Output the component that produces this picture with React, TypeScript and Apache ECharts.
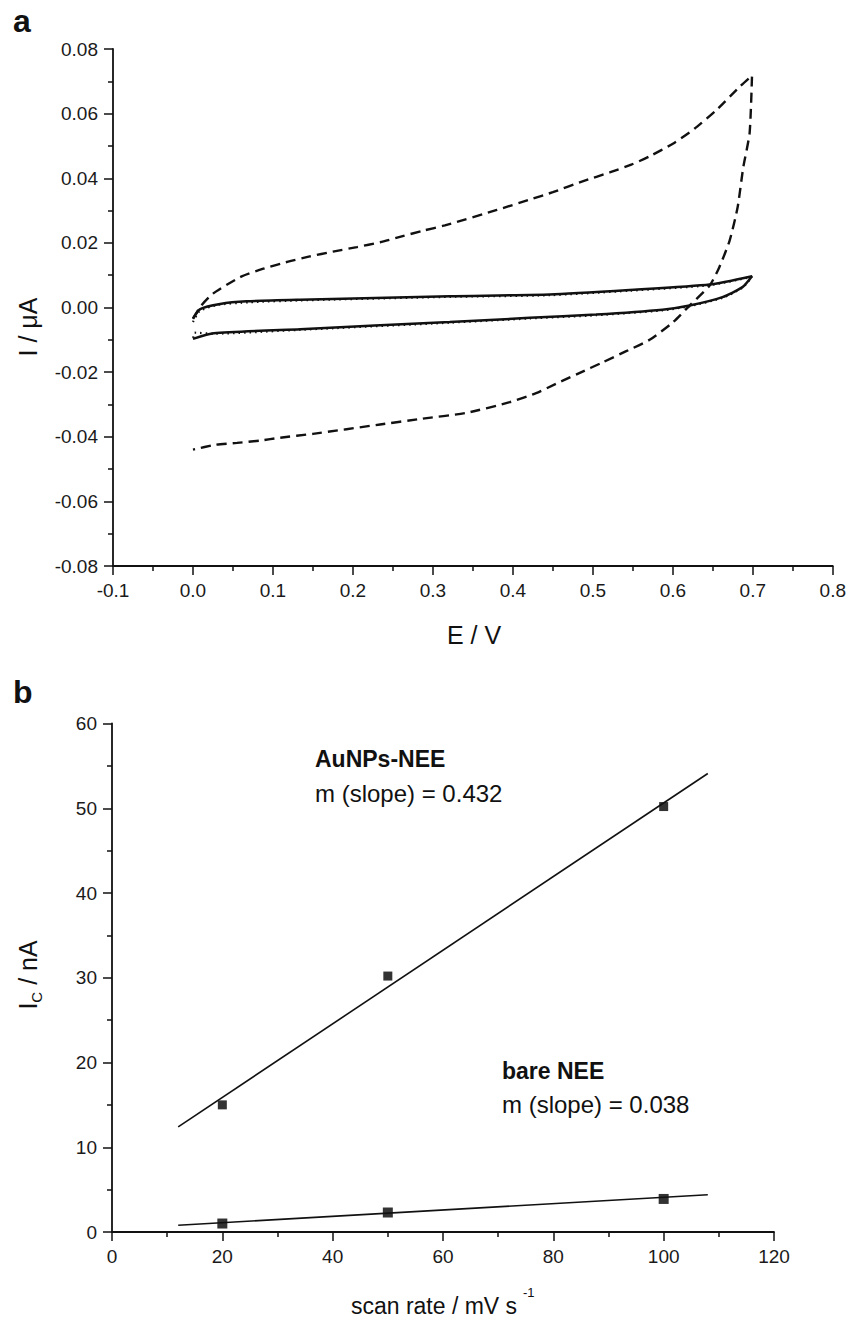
import React, { useEffect, useRef } from "react";
import * as echarts from "echarts";

// ---- Panel a: cyclic voltammograms (E / V, I / µA) ----
const dashedE = [0.0, 0.01, 0.025, 0.059, 0.088, 0.119, 0.146, 0.175, 0.205, 0.234, 0.261, 0.288, 0.315, 0.38, 0.42, 0.45, 0.488, 0.521, 0.548, 0.571, 0.6, 0.627, 0.654, 0.683, 0.699, 0.696, 0.688, 0.681, 0.671, 0.658, 0.646, 0.621, 0.6, 0.571, 0.541, 0.512, 0.483, 0.454, 0.429, 0.396, 0.342, 0.284, 0.234, 0.15, 0.109, 0.084, 0.055, 0.028, 0.0];
const dashedI = [-0.0034, 0.0005, 0.0043, 0.0094, 0.012, 0.0142, 0.0158, 0.0173, 0.0187, 0.0202, 0.022, 0.0238, 0.0254, 0.0302, 0.0333, 0.0357, 0.0391, 0.0418, 0.0442, 0.0468, 0.0507, 0.0553, 0.061, 0.0682, 0.0718, 0.054, 0.0433, 0.031, 0.0207, 0.0124, 0.0068, 0.0006, -0.0046, -0.01, -0.0136, -0.017, -0.0203, -0.0236, -0.0265, -0.0293, -0.0326, -0.0345, -0.0362, -0.0391, -0.0403, -0.0412, -0.0419, -0.0425, -0.044];

const solidE = [0.0, 0.009, 0.034, 0.067, 0.134, 0.321, 0.446, 0.546, 0.646, 0.699, 0.687, 0.662, 0.621, 0.587, 0.504, 0.421, 0.321, 0.134, 0.026, 0.0];
const solidI = [-0.0035, -0.0005, 0.0011, 0.0019, 0.0024, 0.0035, 0.004, 0.0054, 0.0071, 0.0097, 0.0063, 0.0032, 0.0006, -0.0007, -0.0022, -0.0032, -0.0045, -0.0067, -0.008, -0.0097];

const dottedE = [0.0, 0.008, 0.03, 0.07, 0.134, 0.321, 0.446, 0.546, 0.646, 0.699, 0.687, 0.662, 0.621, 0.587, 0.504, 0.421, 0.321, 0.134, 0.026, 0.002, 0.0];
const dottedI = [-0.0045, -0.0012, 0.0008, 0.0016, 0.0022, 0.0033, 0.0038, 0.0052, 0.0069, 0.0095, 0.0061, 0.003, 0.0004, -0.0009, -0.0024, -0.0034, -0.0047, -0.0069, -0.0081, -0.0078, -0.0106];

// ---- Panel b: capacitive current vs scan rate ----
const scanRates = [20, 50, 100];
const auNPsNEE = [15.0, 30.2, 50.2];
const bareNEE = [1.0, 2.3, 3.9];
const fitX = [12, 108];
const auFit = [12.4, 54.1];
const bareFit = [0.8, 4.4];

const FONT = "'Liberation Sans', Arial, Helvetica, sans-serif";
const BLACK = "#111";

function pairs(xs: number[], ys: number[]) {
  return xs.map((x, i) => [x, ys[i]]);
}

function axisBase(fmt: (v: number) => string, margin: number) {
  return {
    type: "value",
    axisLine: { show: true, onZero: false, lineStyle: { color: BLACK, width: 1.8 } },
    axisTick: { show: true, inside: false, length: 9, lineStyle: { color: BLACK, width: 1.5 } },
    minorTick: { show: true, splitNumber: 2, length: 5, lineStyle: { color: BLACK, width: 1.5 } },
    splitLine: { show: false },
    minorSplitLine: { show: false },
    axisLabel: {
      color: "#1a1a1a",
      fontSize: 19,
      fontFamily: FONT,
      margin,
      showMinLabel: true,
      showMaxLabel: true,
      formatter: fmt,
    },
  };
}

const fmt1 = (v: number) => (Math.abs(v) < 1e-9 ? "0.0" : v.toFixed(1));
const fmt2 = (v: number) => (Math.abs(v) < 1e-9 ? "0.00" : v.toFixed(2));
const fmt0 = (v: number) => String(Math.round(v));

export default function App() {
  const ref = useRef<HTMLDivElement>(null);
  useEffect(() => {
    if (!ref.current) return;
    const chart = echarts.init(ref.current, undefined, { renderer: "svg" });
    const option: any = {
      animation: false,
      backgroundColor: "#fff",
      grid: [
        { left: 113, top: 49, width: 721, height: 517 },
        { left: 112, top: 723.5, width: 662, height: 508.5 },
      ],
      xAxis: [
        { ...axisBase(fmt1, 15), gridIndex: 0, min: -0.1, max: 0.8, interval: 0.1 },
        { ...axisBase(fmt0, 15), gridIndex: 1, min: 0, max: 120, interval: 20 },
      ],
      yAxis: [
        { ...axisBase(fmt2, 15), gridIndex: 0, min: -0.08, max: 0.08, interval: 0.02 },
        { ...axisBase(fmt0, 15), gridIndex: 1, min: 0, max: 60, interval: 10 },
      ],
      series: [
        {
          name: "AuNPs-NEE CV",
          type: "line",
          xAxisIndex: 0,
          yAxisIndex: 0,
          data: pairs(dashedE, dashedI),
          showSymbol: false,
          smooth: 0.2,
          lineStyle: { color: BLACK, width: 2.4, type: [10, 6] },
        },
        {
          name: "bare NEE CV",
          type: "line",
          xAxisIndex: 0,
          yAxisIndex: 0,
          data: pairs(solidE, solidI),
          showSymbol: false,
          smooth: 0.2,
          lineStyle: { color: BLACK, width: 2.5 },
        },
        {
          name: "bare NEE CV 2",
          type: "line",
          xAxisIndex: 0,
          yAxisIndex: 0,
          data: pairs(dottedE, dottedI),
          showSymbol: false,
          smooth: 0.2,
          lineStyle: { color: BLACK, width: 2.2, type: [1.5, 4] },
        },
        {
          name: "AuNPs fit",
          type: "line",
          xAxisIndex: 1,
          yAxisIndex: 1,
          data: pairs(fitX, auFit),
          showSymbol: false,
          lineStyle: { color: BLACK, width: 1.6 },
        },
        {
          name: "bare fit",
          type: "line",
          xAxisIndex: 1,
          yAxisIndex: 1,
          data: pairs(fitX, bareFit),
          showSymbol: false,
          lineStyle: { color: BLACK, width: 1.6 },
        },
        {
          name: "AuNPs-NEE",
          type: "scatter",
          xAxisIndex: 1,
          yAxisIndex: 1,
          data: pairs(scanRates, auNPsNEE),
          symbol: "rect",
          symbolSize: 9,
          itemStyle: { color: "#000" },
        },
        {
          name: "bare NEE",
          type: "scatter",
          xAxisIndex: 1,
          yAxisIndex: 1,
          data: pairs(scanRates, bareNEE),
          symbol: "rect",
          symbolSize: 10,
          itemStyle: { color: "#000" },
        },
      ],
      graphic: [
        { type: "text", x: 13, y: 21, style: { text: "a", font: `bold 32px ${FONT}`, fill: BLACK, textAlign: "left", textVerticalAlign: "middle" } },
        { type: "text", x: 13, y: 692, style: { text: "b", font: `bold 32px ${FONT}`, fill: BLACK, textAlign: "left", textVerticalAlign: "middle" } },
        { type: "text", x: 474, y: 635, style: { text: "E / V", font: `25px ${FONT}`, fill: BLACK, textAlign: "center", textVerticalAlign: "middle" } },
        { type: "text", x: 28, y: 327, rotation: Math.PI / 2, style: { text: "I / μA", font: `25px ${FONT}`, fill: BLACK, textAlign: "center", textVerticalAlign: "middle" } },
        {
          type: "text",
          x: 28,
          y: 975,
          rotation: Math.PI / 2,
          style: {
            text: "{n|I}{s|C}{n| / nA}",
            fill: BLACK,
            textAlign: "center",
            textVerticalAlign: "middle",
            rich: {
              n: { fontSize: 25, fontFamily: FONT, lineHeight: 32, fill: BLACK },
              s: { fontSize: 15, fontFamily: FONT, lineHeight: 32, verticalAlign: "bottom", fill: BLACK },
            },
          },
        },
        { type: "text", x: 434, y: 1306, style: { text: "scan rate / mV s", font: `23px ${FONT}`, fill: BLACK, textAlign: "center", textVerticalAlign: "middle" } },
        { type: "text", x: 523, y: 1292, style: { text: "-1", font: `13px ${FONT}`, fill: BLACK, textAlign: "left", textVerticalAlign: "middle" } },
        { type: "text", x: 315, y: 759, style: { text: "AuNPs-NEE", font: `bold 23px ${FONT}`, fill: BLACK, textAlign: "left", textVerticalAlign: "middle" } },
        { type: "text", x: 315, y: 793, style: { text: "m (slope) = 0.432", font: `24px ${FONT}`, fill: BLACK, textAlign: "left", textVerticalAlign: "middle" } },
        { type: "text", x: 502, y: 1071, style: { text: "bare NEE", font: `bold 23px ${FONT}`, fill: BLACK, textAlign: "left", textVerticalAlign: "middle" } },
        { type: "text", x: 502, y: 1104, style: { text: "m (slope) = 0.038", font: `24px ${FONT}`, fill: BLACK, textAlign: "left", textVerticalAlign: "middle" } },
      ],
    };
    chart.setOption(option);
    return () => chart.dispose();
  }, []);
  return (
    <div
      ref={ref}
      style={{ position: "fixed", left: 0, top: 0, width: 849, height: 1319, background: "#fff" }}
    />
  );
}
